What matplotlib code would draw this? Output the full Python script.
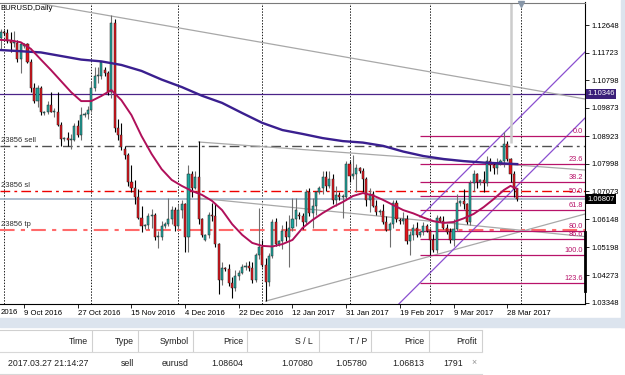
import numpy as np
import pandas as pd
import matplotlib
matplotlib.use('Agg')
import matplotlib.pyplot as plt
from matplotlib.transforms import blended_transform_factory

plt.rcParams['font.family'] = ['Liberation Sans', 'DejaVu Sans']

# daily bars, Sunday..Friday sessions (no Sunday bar on 25 Dec / 1 Jan)
dates = pd.bdate_range('2016-09-30', '2017-03-31', freq='C',
                       weekmask='Sun Mon Tue Wed Thu Fri',
                       holidays=['2016-12-25', '2017-01-01'])

opens = [1.1220, 1.1240, 1.1238, 1.1212, 1.1205, 1.1205, 1.1152, 1.1195, 1.1200, 1.1142,
         1.1055, 1.1010, 1.1055, 1.0970, 1.0975, 1.0998, 1.0975, 1.0975, 1.0930, 1.0882,
         1.0885, 1.0880, 1.0880, 1.0925, 1.0898, 1.0965, 1.0968, 1.0980, 1.1055, 1.1095,
         1.1095, 1.1115, 1.1105, 1.1040, 1.1270, 1.0920, 1.0895, 1.0850, 1.0830, 1.0740,
         1.0720, 1.0690, 1.0620, 1.0590, 1.0595, 1.0625, 1.0630, 1.0555, 1.0555, 1.0590,
         1.0600, 1.0615, 1.0645, 1.0590, 1.0645, 1.0665, 1.0555, 1.0765, 1.0720, 1.0755,
         1.0615, 1.0545, 1.0560, 1.0630, 1.0625, 1.0530, 1.0410, 1.0450, 1.0448, 1.0400,
         1.0385, 1.0425, 1.0435, 1.0455, 1.0458, 1.0452, 1.0410, 1.0495, 1.0520, 1.0460,
         1.0405, 1.0490, 1.0605, 1.0530, 1.0540, 1.0575, 1.0555, 1.0585, 1.0615, 1.0630,
         1.0625, 1.0605, 1.0705, 1.0635, 1.0660, 1.0705, 1.0720, 1.0755, 1.0725, 1.0750,
         1.0680, 1.0695, 1.0690, 1.0690, 1.0800, 1.0760, 1.0765, 1.0785, 1.0775, 1.0750,
         1.0680, 1.0700, 1.0660, 1.0640, 1.0642, 1.0605, 1.0578, 1.0600, 1.0670, 1.0612,
         1.0610, 1.0615, 1.0540, 1.0560, 1.0585, 1.0560, 1.0570, 1.0590, 1.0575, 1.0545,
         1.0510, 1.0620, 1.0610, 1.0585, 1.0570, 1.0545, 1.0580, 1.0670, 1.0675, 1.0665,
         1.0605, 1.0735, 1.0765, 1.0740, 1.0745, 1.0735, 1.0810, 1.0795, 1.0785, 1.0800,
         1.0810, 1.0865, 1.0815, 1.0765, 1.0715]
highs = [1.1252, 1.1248, 1.1250, 1.1240, 1.1245, 1.1215, 1.1208, 1.1205, 1.1205, 1.1150,
         1.1070, 1.1065, 1.1060, 1.0978, 1.1010, 1.1040, 1.0988, 1.1040, 1.0940, 1.0890,
         1.0905, 1.0900, 1.0935, 1.0945, 1.0990, 1.0972, 1.0995, 1.1075, 1.1125, 1.1125,
         1.1145, 1.1125, 1.1110, 1.1300, 1.1285, 1.0950, 1.0935, 1.0860, 1.0835, 1.0795,
         1.0745, 1.0715, 1.0660, 1.0600, 1.0635, 1.0650, 1.0635, 1.0575, 1.0610, 1.0605,
         1.0685, 1.0660, 1.0655, 1.0665, 1.0680, 1.0670, 1.0795, 1.0775, 1.0775, 1.0875,
         1.0620, 1.0565, 1.0640, 1.0670, 1.0670, 1.0535, 1.0470, 1.0455, 1.0465, 1.0420,
         1.0445, 1.0445, 1.0465, 1.0470, 1.0475, 1.0470, 1.0500, 1.0652, 1.0545, 1.0485,
         1.0500, 1.0615, 1.0620, 1.0545, 1.0595, 1.0610, 1.0630, 1.0685, 1.0685, 1.0640,
         1.0635, 1.0715, 1.0720, 1.0685, 1.0710, 1.0725, 1.0775, 1.0775, 1.0775, 1.0765,
         1.0725, 1.0705, 1.0700, 1.0810, 1.0810, 1.0830, 1.0800, 1.0790, 1.0785, 1.0755,
         1.0720, 1.0710, 1.0680, 1.0650, 1.0665, 1.0625, 1.0605, 1.0680, 1.0680, 1.0620,
         1.0640, 1.0630, 1.0575, 1.0600, 1.0605, 1.0575, 1.0605, 1.0600, 1.0580, 1.0565,
         1.0630, 1.0625, 1.0625, 1.0600, 1.0585, 1.0615, 1.0700, 1.0680, 1.0715, 1.0670,
         1.0745, 1.0780, 1.0770, 1.0750, 1.0775, 1.0825, 1.0820, 1.0805, 1.0820, 1.0815,
         1.0905, 1.0875, 1.0820, 1.0775, 1.0720]
lows = [1.1185, 1.1230, 1.1205, 1.1175, 1.1190, 1.1140, 1.1105, 1.1188, 1.1138, 1.1040,
        1.1002, 1.0990, 1.0965, 1.0965, 1.0968, 1.0975, 1.0958, 1.0925, 1.0860, 1.0878,
        1.0858, 1.0850, 1.0875, 1.0890, 1.0880, 1.0958, 1.0950, 1.0975, 1.1045, 1.1070,
        1.1085, 1.1095, 1.1030, 1.1020, 1.0905, 1.0880, 1.0845, 1.0815, 1.0725, 1.0705,
        1.0665, 1.0615, 1.0570, 1.0580, 1.0580, 1.0585, 1.0545, 1.0518, 1.0545, 1.0585,
        1.0590, 1.0600, 1.0575, 1.0580, 1.0620, 1.0505, 1.0505, 1.0690, 1.0715, 1.0600,
        1.0555, 1.0540, 1.0550, 1.0610, 1.0520, 1.0365, 1.0395, 1.0440, 1.0390, 1.0352,
        1.0375, 1.0410, 1.0430, 1.0445, 1.0440, 1.0400, 1.0405, 1.0480, 1.0455, 1.0340,
        1.0390, 1.0485, 1.0525, 1.0525, 1.0515, 1.0540, 1.0455, 1.0575, 1.0590, 1.0615,
        1.0580, 1.0600, 1.0625, 1.0585, 1.0630, 1.0700, 1.0700, 1.0710, 1.0720, 1.0665,
        1.0660, 1.0680, 1.0620, 1.0680, 1.0740, 1.0750, 1.0705, 1.0770, 1.0705, 1.0660,
        1.0640, 1.0655, 1.0630, 1.0630, 1.0600, 1.0575, 1.0520, 1.0585, 1.0605, 1.0600,
        1.0600, 1.0530, 1.0494, 1.0545, 1.0555, 1.0555, 1.0560, 1.0570, 1.0495, 1.0505,
        1.0500, 1.0605, 1.0580, 1.0565, 1.0535, 1.0525, 1.0575, 1.0660, 1.0650, 1.0600,
        1.0595, 1.0710, 1.0720, 1.0730, 1.0705, 1.0725, 1.0775, 1.0765, 1.0765, 1.0795,
        1.0790, 1.0810, 1.0740, 1.0690, 1.0675]
closes = [1.1240, 1.1238, 1.1212, 1.1205, 1.1205, 1.1152, 1.1200, 1.1200, 1.1142, 1.1055,
          1.1010, 1.1055, 1.0972, 1.0975, 1.0998, 1.0975, 1.0975, 1.0930, 1.0882, 1.0885,
          1.0880, 1.0880, 1.0925, 1.0898, 1.0965, 1.0968, 1.0980, 1.1055, 1.1095, 1.1095,
          1.1140, 1.1105, 1.1040, 1.1270, 1.0920, 1.0895, 1.0855, 1.0830, 1.0740, 1.0720,
          1.0690, 1.0620, 1.0590, 1.0595, 1.0625, 1.0630, 1.0555, 1.0555, 1.0590, 1.0600,
          1.0615, 1.0645, 1.0590, 1.0645, 1.0665, 1.0555, 1.0765, 1.0720, 1.0755, 1.0615,
          1.0560, 1.0560, 1.0630, 1.0625, 1.0530, 1.0410, 1.0450, 1.0448, 1.0400, 1.0385,
          1.0425, 1.0435, 1.0455, 1.0458, 1.0452, 1.0410, 1.0495, 1.0520, 1.0460, 1.0405,
          1.0490, 1.0605, 1.0530, 1.0540, 1.0575, 1.0555, 1.0585, 1.0615, 1.0645, 1.0625,
          1.0605, 1.0705, 1.0635, 1.0660, 1.0705, 1.0720, 1.0755, 1.0725, 1.0750, 1.0680,
          1.0695, 1.0690, 1.0690, 1.0800, 1.0760, 1.0765, 1.0785, 1.0775, 1.0750, 1.0680,
          1.0700, 1.0660, 1.0640, 1.0642, 1.0605, 1.0578, 1.0600, 1.0670, 1.0615, 1.0610,
          1.0615, 1.0540, 1.0560, 1.0585, 1.0560, 1.0570, 1.0590, 1.0575, 1.0545, 1.0510,
          1.0620, 1.0610, 1.0585, 1.0570, 1.0545, 1.0580, 1.0670, 1.0675, 1.0665, 1.0605,
          1.0735, 1.0765, 1.0740, 1.0745, 1.0735, 1.0810, 1.0795, 1.0785, 1.0800, 1.0810,
          1.0865, 1.0815, 1.0765, 1.0715, 1.0681]

# moving averages (bar index, price)
ma_fast_bar = [0, 3, 6, 9, 12, 15, 18, 21, 24, 27, 30, 33, 36, 39, 42, 45, 48, 51, 54, 57,
               60, 63, 66, 69, 72, 75, 78, 81, 84, 87, 90, 93, 96, 99, 102, 105, 108, 111,
               114, 117, 120, 123, 126, 129, 132, 135, 138, 141, 144, 147, 150, 152, 154]
ma_fast_val = [1.1215, 1.1213, 1.1207, 1.1185, 1.1149, 1.1114, 1.1077, 1.1040, 1.1010, 1.1010,
               1.1027, 1.1047, 1.1013, 1.0963, 1.0893, 1.0833, 1.0782, 1.0746, 1.0726, 1.0709,
               1.0696, 1.0676, 1.0645, 1.0598, 1.0562, 1.0535, 1.0525, 1.0523, 1.0531, 1.0545,
               1.0585, 1.0612, 1.0635, 1.0655, 1.0672, 1.0692, 1.0702, 1.0694, 1.0679, 1.0662,
               1.0645, 1.0634, 1.0620, 1.0608, 1.0602, 1.0605, 1.0617, 1.0632, 1.0655, 1.0682,
               1.0712, 1.0726, 1.0716]
ma_slow_bar = [0, 6, 12, 18, 24, 30, 36, 42, 48, 54, 60, 66, 72, 78, 84, 90, 96, 102, 108,
               114, 120, 126, 132, 138, 144, 150, 154]
ma_slow_val = [1.1181, 1.1177, 1.1173, 1.1161, 1.1149, 1.1143, 1.1131, 1.1111, 1.1082, 1.1057,
               1.1028, 1.1004, 1.0970, 1.0937, 1.0913, 1.0900, 1.0886, 1.0876, 1.0871, 1.0860,
               1.0841, 1.0826, 1.0816, 1.0809, 1.0804, 1.0801, 1.0799]

# order #23856
order_open, order_sl, order_tp, bid = 1.08604, 1.07080, 1.05780, 1.06807
hline_level = 1.10346

# trendlines: (bar1, price1, bar2, price2)
trend_gray = [(10.0, 1.13400, 174.2, 1.10170),
              (59, 1.08730, 174.2, 1.07792),
              (59, 1.06850, 174.2, 1.05561),
              (79, 1.03400, 174.2, 1.06318)]
channel = [(118.7, 1.03304, 174.2, 1.09533),
           (125.0, 1.06218, 174.2, 1.11744)]

fib_start = 125.0
fib_high, fib_low = 1.0893, 1.0494
fib_levels = [0.0, 23.6, 38.2, 50.0, 61.8, 80.0, 86.6, 100.0, 123.6]

price_ticks = [1.12648, 1.11723, 1.10798, 1.09873, 1.08923, 1.07998, 1.07073,
               1.06148, 1.05198, 1.04273, 1.03348]
label_dates = ['2016-10-09', '2016-10-27', '2016-11-15', '2016-12-04', '2016-12-22',
               '2017-01-12', '2017-01-31', '2017-02-19', '2017-03-09', '2017-03-28']
month_bars = [1, 27, 53, 78, 104, 128, 155]

table_cols = ['Time', 'Type', 'Symbol', 'Price', 'S / L', 'T / P', 'Price', 'Profit']
table_row = ['2017.03.27 21:14:27', 'sell', 'eurusd', '1.08604', '1.07080', '1.05780',
             '1.06813', '1791']

W, H = 625, 375
fig = plt.figure(figsize=(6.25, 3.75), dpi=100)
ax = fig.add_axes([0, 1 - 304 / H, 585 / W, (304 - 2.5) / H])
ax.set_xlim(-0.19, 174.2)
ax.set_ylim(1.03304, 1.13402)

x = np.arange(len(dates))
o, h, l, c = map(np.array, (opens, highs, lows, closes))
up = c >= o

# grid
for b in month_bars:
    ax.axvline(b, color='#202020', lw=0.7, ls=(0, (1.5, 1.5)), zorder=0.5)

# horizontal objects
ax.axhline(hline_level, color='#4b2388', lw=0.9, zorder=1)
ax.axhline(bid, color='#9fb2c6', lw=1.2, zorder=1)
ax.axhline(order_open, color='#505050', lw=1.0, ls=(0, (7, 3, 2, 3)), zorder=1)
ax.axhline(order_sl, color='#ee0000', lw=1.0, ls=(0, (7, 3, 2, 3)), zorder=1)
ax.axhline(order_tp, color='#ff6a6a', lw=1.5, ls=(0, (7, 3, 2, 3)), zorder=1)
for lvl, txt in [(order_open, '23856 sell'), (order_sl, '23856 sl'), (order_tp, '23856 tp')]:
    ax.text(0.0, lvl + 0.0006, txt, fontsize=5.5, color='#303030', va='bottom', ha='left')

# trendlines and channel
for x1, p1, x2, p2 in trend_gray:
    ax.plot([x1, x2], [p1, p2], color='#a8a8a8', lw=0.9, zorder=1)
for x1, p1, x2, p2 in channel:
    ax.plot([x1, x2], [p1, p2], color='#8a4fd0', lw=0.9, zorder=1)

# fibonacci retracement
for lv in fib_levels:
    p = fib_high - (fib_high - fib_low) * lv / 100
    ax.hlines(p, fib_start, 174.2, color='#b8136a', lw=0.9, zorder=1)
    ax.text(173.6, p + 0.0003, '%.1f' % lv, fontsize=5.3, color='#b8136a',
            ha='right', va='bottom')

# vertical marker line and chart shift triangle
ax.vlines(152, 1.0870, 1.1340, color='#cccccc', lw=1.8, zorder=1)
ax.plot([155], [1.1334], marker='v', color='#8796a8', ms=4, clip_on=False, zorder=5)

# candles
ax.vlines(x[up], l[up], h[up], color='#6e6e6e', lw=0.8, zorder=2)
ax.vlines(x[~up], l[~up], h[~up], color='#000000', lw=0.8, zorder=2)
lo = np.minimum(o, c)
bh = np.maximum(np.abs(c - o), 0.00015)
ax.bar(x[up], bh[up], 0.62, bottom=lo[up], color='#1fa79f', edgecolor='#202020', lw=0.35, zorder=3)
ax.bar(x[~up], bh[~up], 0.62, bottom=lo[~up], color='#e4141c', edgecolor='#202020', lw=0.35, zorder=3)

# moving averages
ax.plot(ma_slow_bar, ma_slow_val, color='#3a1f8f', lw=1.7, zorder=4)
ax.plot(ma_fast_bar, ma_fast_val, color='#b0105a', lw=1.4, zorder=4)

# axes styling
ax.spines['left'].set_visible(False)
ax.spines['top'].set_color('#7a7a7a')
ax.spines['right'].set_color('black')
ax.spines['bottom'].set_color('black')
ax.yaxis.tick_right()
ax.set_yticks(price_ticks)
ax.set_yticklabels(['%.5f' % p for p in price_ticks])
ax.tick_params(axis='y', length=3, width=0.6, pad=2, labelsize=5.5)
tick_pos = [dates.get_loc(pd.Timestamp(d)) for d in label_dates]
ax.set_xticks(tick_pos)
ax.set_xticklabels([pd.Timestamp(d).strftime('%-d %b %Y') for d in label_dates])
ax.tick_params(axis='x', length=3, width=0.6, pad=1.5, labelsize=5.6)
for t in ax.get_xticklabels():
    t.set_ha('left')
# tail of the previous date label ("20 Sep 2016"), cut by the window edge
ax.text(0.0, 1.03304 - 0.0017, '2016', fontsize=5.6, ha='left', va='top', clip_on=False)

ax.text(0.001, 0.992, 'EURUSD,Daily', transform=ax.transAxes, fontsize=5.6, va='top')

bt = blended_transform_factory(ax.transAxes, ax.transData)
ax.text(1.004, hline_level, '1.10346', transform=bt, fontsize=5.5, color='white',
        va='center', ha='left', clip_on=False,
        bbox=dict(boxstyle='square,pad=0.2', fc='#3b1f7a', ec='none'))
ax.text(1.004, bid, '1.06807', transform=bt, fontsize=5.5, color='white',
        va='center', ha='left', clip_on=False,
        bbox=dict(boxstyle='square,pad=0.2', fc='black', ec='none'))
ax.plot([1.0, 1.0], [1.0375, 1.0570], transform=bt, color='black', lw=2, clip_on=False)

# window frame and trade table (pixel overlay)
ov = fig.add_axes([0, 0, 1, 1], zorder=-1)
ov.set_xlim(0, W)
ov.set_ylim(H, 0)
ov.axis('off')
ov.fill_between([0, W], 318, 327, color='#dce4ee')
ov.fill_between([621, W], 0, 327, color='#dce4ee')
ov.plot([0, 482], [330, 330], color='#d0d0d0', lw=0.8)
ov.plot([0, 482], [352, 352], color='#d8d8d8', lw=0.8)
ov.plot([0, 482], [374, 374], color='#d8d8d8', lw=0.8)
col_right = [88, 134, 189, 243, 313, 367, 424, 477]
col_sep = [92, 138, 193, 247, 319, 371, 429, 482]
for xs in col_sep:
    ov.plot([xs, xs], [331, 351], color='#d0d0d0', lw=0.8)
for xr, name, val in zip(col_right, table_cols, table_row):
    ov.text(xr, 341, name, ha='right', va='center', fontsize=6.3, color='#202020')
    ov.text(xr - (14 if name == 'Profit' else 0), 363, val, ha='right', va='center',
            fontsize=6.3, color='#202020')
ov.text(474, 363, '×', ha='center', va='center', fontsize=6.3, color='#909090')

fig.savefig('out.png', dpi=100)
